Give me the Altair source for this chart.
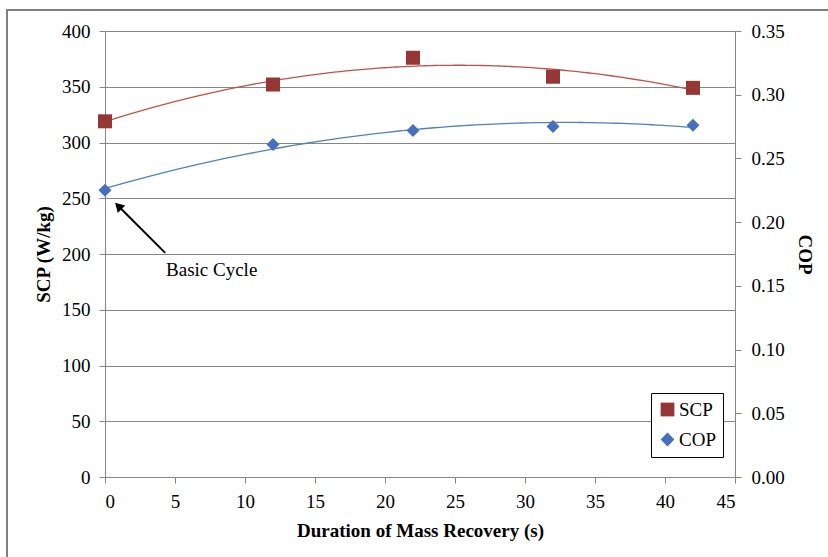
import altair as alt
import pandas as pd

FONT = "'Liberation Serif', 'Times New Roman', Times, 'DejaVu Serif', serif"

# ---- data ----
duration = [0, 12, 22, 32, 42]
scp = [319, 352, 376, 359, 349]
cop = [0.225, 0.261, 0.272, 0.275, 0.276]

series_names = ["SCP", "COP"]
marker_colors = ["#953735", "#4A6EBE"]
marker_shapes = ["square", "diamond"]
line_colors = ["#C0504D", "#4F81BD"]

x_ticks = list(range(0, 46, 5))
scp_ticks = list(range(0, 401, 50))
cop_ticks = [0.0, 0.05, 0.10, 0.15, 0.20, 0.25, 0.30, 0.35]

# annotation (in data units: duration / SCP)
arrow_x = [4.3, 0.95]
arrow_y = [201, 243]
note_x = [4.36]
note_y = [180]
note_text = ["Basic Cycle"]

scp_df = pd.DataFrame({"x": duration, "v": scp, "series": "SCP"})
cop_df = pd.DataFrame({"x": duration, "v": cop, "series": "COP"})
arrow_df = pd.DataFrame({"x": [arrow_x[0]], "y": [arrow_y[0]], "x2": [arrow_x[1]], "y2": [arrow_y[1]]})
head_df = pd.DataFrame({"x": [arrow_x[1]], "y": [arrow_y[1]]})
note_df = pd.DataFrame({"x": note_x, "y": note_y, "t": note_text})

GRAY = "#868686"

x_enc = alt.X(
    "x:Q",
    scale=alt.Scale(domain=[0, 45], nice=False),
    axis=alt.Axis(values=x_ticks, title="Duration of Mass Recovery (s)", grid=False,
                  domainColor=GRAY, tickColor=GRAY, tickSize=6, labelPadding=9,
                  titlePadding=10),
)
y_left_scale = alt.Scale(domain=[0, 400], nice=False)
y_left_axis = alt.Axis(values=scp_ticks, title="SCP (W/kg)", grid=True, gridColor=GRAY,
                       domainColor=GRAY, tickColor=GRAY, tickSize=6, labelPadding=9,
                       titlePadding=8)
y_right_scale = alt.Scale(domain=[0, 0.35], nice=False)
y_right_axis = alt.Axis(values=cop_ticks, format=".2f", title="COP", grid=False, orient="right",
                        domainColor=GRAY, tickColor=GRAY, tickSize=6, labelPadding=10,
                        titlePadding=10)

color_enc = alt.Color("series:N", scale=alt.Scale(domain=series_names, range=marker_colors),
                      legend=alt.Legend(title=None, orient="none", legendX=546, legendY=362,
                                        padding=7, strokeColor="black", fillColor="white",
                                        labelFont=FONT, labelFontSize=19, labelOffset=2,
                                        symbolSize=190, symbolStrokeWidth=0, symbolOpacity=1,
                                        rowPadding=10, labelColor="black"))
shape_enc = alt.Shape("series:N", scale=alt.Scale(domain=series_names, range=marker_shapes))

scp_line = alt.Chart(scp_df).transform_regression("x", "v", method="poly", order=2).mark_line(
    color=line_colors[0], strokeWidth=1.3).encode(x=x_enc, y=alt.Y("v:Q", scale=y_left_scale, axis=y_left_axis))
scp_pts = alt.Chart(scp_df).mark_point(filled=True, size=196, opacity=1, strokeWidth=0).encode(
    x=x_enc, y=alt.Y("v:Q", scale=y_left_scale, axis=y_left_axis), color=color_enc, shape=shape_enc)

arrow = alt.Chart(arrow_df).mark_rule(color="black", strokeWidth=2).encode(
    x="x:Q", y="y:Q", x2="x2:Q", y2="y2:Q")
head = alt.Chart(head_df).mark_point(shape="triangle-up", filled=True, color="black",
                                     opacity=1, size=110, angle=315).encode(x="x:Q", y="y:Q")
note = alt.Chart(note_df).mark_text(align="left", baseline="alphabetic", font=FONT,
                                    fontSize=19, color="black").encode(x="x:Q", y="y:Q", text="t:N")

frame_top = alt.Chart(scp_df).mark_rule(color="#7F7F7F", strokeWidth=2).encode(
    x=alt.value(-98), x2=alt.value(900), y=alt.value(-21))
frame_left = alt.Chart(scp_df).mark_rule(color="#7F7F7F", strokeWidth=2).encode(
    x=alt.value(-98), y=alt.value(-22), y2=alt.value(700))

left = alt.layer(scp_line, scp_pts, arrow, head, note, frame_top, frame_left)

cop_line = alt.Chart(cop_df).transform_regression("x", "v", method="poly", order=2).mark_line(
    color=line_colors[1], strokeWidth=1.3).encode(x=x_enc, y=alt.Y("v:Q", scale=y_right_scale, axis=y_right_axis))
cop_pts = alt.Chart(cop_df).mark_point(filled=True, size=170, opacity=1, strokeWidth=0).encode(
    x=x_enc, y=alt.Y("v:Q", scale=y_right_scale, axis=y_right_axis), color=color_enc, shape=shape_enc)
right = alt.layer(cop_line, cop_pts)

chart = alt.layer(left, right).resolve_scale(y="independent").properties(
    width=630, height=446,
    autosize=alt.AutoSizeParams(type="none"),
    padding={"left": 105, "top": 31, "right": 93, "bottom": 80},
    background="white",
).configure_view(stroke=None).configure_axis(
    labelFont=FONT, labelFontSize=19, labelColor="black",
    titleFont=FONT, titleFontSize=19, titleFontWeight="bold", titleColor="black",
).configure_legend(labelFont=FONT).configure_text(font=FONT)

chart.save("out.html", embed_options={"renderer": "svg", "actions": False})
